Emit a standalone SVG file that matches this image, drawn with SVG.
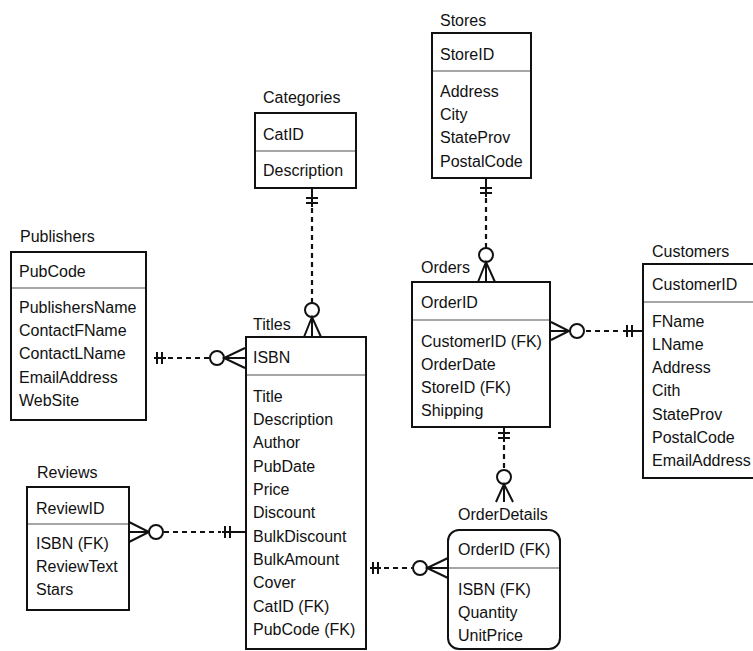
<svg xmlns="http://www.w3.org/2000/svg" width="753" height="651" viewBox="0 0 753 651">
<style>
  text { font-family: "Liberation Sans", Arial, sans-serif; font-size: 16px; fill: #111; }
  .box { fill: #fff; stroke: #111; stroke-width: 2; }
  .sep { stroke: #888; stroke-width: 1.5; }
  .solid { stroke: #111; stroke-width: 2; fill: none; }
  .dash { stroke: #111; stroke-width: 2.2; fill: none; stroke-dasharray: 5 4; }
  .circ { stroke: #111; stroke-width: 2; fill: #fff; }
</style>
<rect width="753" height="651" fill="#fff"/>

<g id="connectors">
  <!-- Categories - Titles -->
  <g id="c-cat-titles">
    <line class="solid" x1="312" y1="189" x2="312" y2="207"/>
    <line class="solid" x1="306" y1="198" x2="318" y2="198"/>
    <line class="solid" x1="306" y1="203" x2="318" y2="203"/>
    <line class="dash" x1="312" y1="208" x2="312" y2="303"/>
    <circle class="circ" cx="312" cy="310" r="7"/>
    <polyline class="solid" points="304,337 312,317 321,337"/>
    <line class="solid" x1="312" y1="317" x2="312" y2="337"/>
  </g>
  <!-- Stores - Orders -->
  <g id="c-stores-orders">
    <line class="solid" x1="486" y1="179" x2="486" y2="197"/>
    <line class="solid" x1="480" y1="188" x2="492" y2="188"/>
    <line class="solid" x1="480" y1="193" x2="492" y2="193"/>
    <line class="dash" x1="486" y1="198" x2="486" y2="248"/>
    <circle class="circ" cx="486" cy="255" r="7"/>
    <polyline class="solid" points="478,282 486,262 495,282"/>
    <line class="solid" x1="486" y1="262" x2="486" y2="282"/>
  </g>
  <!-- Publishers - Titles -->
  <g id="c-pub-titles">
    <line class="solid" x1="154" y1="358" x2="166" y2="358"/>
    <line class="solid" x1="157" y1="352" x2="157" y2="364"/>
    <line class="solid" x1="162" y1="352" x2="162" y2="364"/>
    <line class="dash" x1="168" y1="358" x2="210" y2="358"/>
    <circle class="circ" cx="217" cy="358" r="7"/>
    <polyline class="solid" points="245,348 224,358 245,368"/>
    <line class="solid" x1="224" y1="358" x2="245" y2="358"/>
  </g>
  <!-- Reviews - Titles -->
  <g id="c-reviews-titles">
    <polyline class="solid" points="129,522 149,532 129,542"/>
    <line class="solid" x1="129" y1="532" x2="149" y2="532"/>
    <circle class="circ" cx="156" cy="532" r="7"/>
    <line class="dash" x1="164" y1="532" x2="221" y2="532"/>
    <line class="solid" x1="222" y1="532" x2="245" y2="532"/>
    <line class="solid" x1="225" y1="526" x2="225" y2="538"/>
    <line class="solid" x1="230" y1="526" x2="230" y2="538"/>
  </g>
  <!-- Titles - OrderDetails -->
  <g id="c-titles-od">
    <line class="solid" x1="370" y1="568" x2="381" y2="568"/>
    <line class="solid" x1="373" y1="562" x2="373" y2="574"/>
    <line class="solid" x1="378" y1="562" x2="378" y2="574"/>
    <line class="dash" x1="384" y1="568" x2="412" y2="568"/>
    <circle class="circ" cx="420" cy="568" r="7"/>
    <polyline class="solid" points="448,558 427,568 448,578"/>
    <line class="solid" x1="427" y1="568" x2="448" y2="568"/>
  </g>
  <!-- Orders - OrderDetails -->
  <g id="c-orders-od">
    <line class="solid" x1="504" y1="428" x2="504" y2="442"/>
    <line class="solid" x1="498" y1="433" x2="510" y2="433"/>
    <line class="solid" x1="498" y1="438" x2="510" y2="438"/>
    <line class="dash" x1="504" y1="445" x2="504" y2="470"/>
    <circle class="circ" cx="504" cy="477" r="7"/>
    <polyline class="solid" points="496,502 504,484 513,502"/>
    <line class="solid" x1="504" y1="484" x2="504" y2="502"/>
  </g>
  <!-- Orders - Customers -->
  <g id="c-orders-customers">
    <polyline class="solid" points="551,322 569,331 551,340"/>
    <line class="solid" x1="551" y1="331" x2="569" y2="331"/>
    <circle class="circ" cx="577" cy="331" r="7"/>
    <line class="dash" x1="586" y1="331" x2="622" y2="331"/>
    <line class="solid" x1="623" y1="331" x2="643" y2="331"/>
    <line class="solid" x1="627" y1="325" x2="627" y2="337"/>
    <line class="solid" x1="632" y1="325" x2="632" y2="337"/>
  </g>
</g>

<g id="stores">
  <text x="440" y="26">Stores</text>
  <rect class="box" x="432" y="33" width="99" height="145"/>
  <line class="sep" x1="433" y1="71" x2="530" y2="71"/>
  <text x="440" y="60">StoreID</text>
  <text x="440" y="97">Address</text>
  <text x="440" y="120">City</text>
  <text x="440" y="143">StateProv</text>
  <text x="440" y="167">PostalCode</text>
</g>

<g id="categories">
  <text x="263" y="103">Categories</text>
  <rect class="box" x="255" y="113" width="101" height="75"/>
  <line class="sep" x1="256" y1="151" x2="355" y2="151"/>
  <text x="263" y="140">CatID</text>
  <text x="263" y="176">Description</text>
</g>

<g id="publishers">
  <text x="20" y="242">Publishers</text>
  <rect class="box" x="11" y="252" width="135" height="168"/>
  <line class="sep" x1="12" y1="288" x2="145" y2="288"/>
  <text x="19" y="277">PubCode</text>
  <text x="19" y="313">PublishersName</text>
  <text x="19" y="336">ContactFName</text>
  <text x="19" y="359">ContactLName</text>
  <text x="19" y="383">EmailAddress</text>
  <text x="19" y="406">WebSite</text>
</g>

<g id="titles">
  <text x="253" y="330">Titles</text>
  <rect class="box" x="246" y="337" width="120" height="312"/>
  <line class="sep" x1="247" y1="375" x2="365" y2="375"/>
  <text x="253" y="363">ISBN</text>
  <text x="253" y="402">Title</text>
  <text x="253" y="425">Description</text>
  <text x="253" y="448">Author</text>
  <text x="253" y="472">PubDate</text>
  <text x="253" y="495">Price</text>
  <text x="253" y="518">Discount</text>
  <text x="253" y="542">BulkDiscount</text>
  <text x="253" y="565">BulkAmount</text>
  <text x="253" y="588">Cover</text>
  <text x="253" y="612">CatID (FK)</text>
  <text x="253" y="635">PubCode (FK)</text>
</g>

<g id="orders">
  <text x="421" y="273">Orders</text>
  <rect class="box" x="412" y="282" width="138" height="145"/>
  <line class="sep" x1="413" y1="320" x2="549" y2="320"/>
  <text x="421" y="308">OrderID</text>
  <text x="421" y="347">CustomerID (FK)</text>
  <text x="421" y="370">OrderDate</text>
  <text x="421" y="393">StoreID (FK)</text>
  <text x="421" y="416">Shipping</text>
</g>

<g id="customers">
  <text x="652" y="257">Customers</text>
  <rect class="box" x="643" y="264" width="130" height="214"/>
  <line class="sep" x1="644" y1="302" x2="760" y2="302"/>
  <text x="652" y="290">CustomerID</text>
  <text x="652" y="327">FName</text>
  <text x="652" y="350">LName</text>
  <text x="652" y="373">Address</text>
  <text x="652" y="396">Cith</text>
  <text x="652" y="420">StateProv</text>
  <text x="652" y="443">PostalCode</text>
  <text x="652" y="466">EmailAddress</text>
</g>

<g id="reviews">
  <text x="37" y="478">Reviews</text>
  <rect class="box" x="27" y="487" width="102" height="123"/>
  <line class="sep" x1="28" y1="524" x2="128" y2="524"/>
  <text x="36" y="514">ReviewID</text>
  <text x="36" y="549">ISBN (FK)</text>
  <text x="36" y="572">ReviewText</text>
  <text x="36" y="595">Stars</text>
</g>

<g id="orderdetails">
  <text x="458" y="520">OrderDetails</text>
  <rect class="box" x="448" y="530" width="112" height="119" rx="11" ry="11"/>
  <line class="sep" x1="449" y1="568" x2="559" y2="568"/>
  <text x="458" y="555">OrderID (FK)</text>
  <text x="458" y="595">ISBN (FK)</text>
  <text x="458" y="618">Quantity</text>
  <text x="458" y="641">UnitPrice</text>
</g>
</svg>
